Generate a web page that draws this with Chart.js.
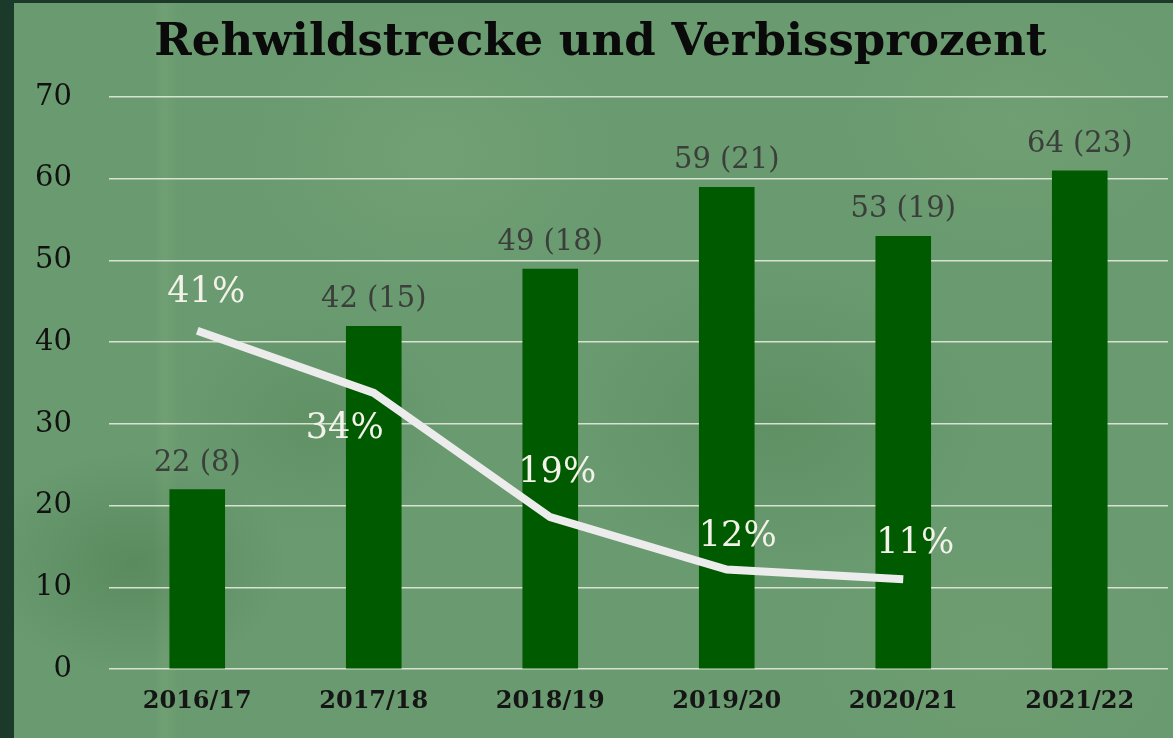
<!DOCTYPE html>
<html>
<head>
<meta charset="utf-8">
<script src="https://cdn.jsdelivr.net/npm/chart.js@4"></script>
<style>
  html, body { margin:0; padding:0; background:#1b3a2a; width:1173px; height:738px; overflow:hidden; }
  #wrap {
    position:absolute; left:14px; top:3px; width:1159px; height:735px;
    background:
      radial-gradient(ellipse 220px 160px at 120px 560px, rgba(60,110,65,0.35), rgba(60,110,65,0) 70%),
      radial-gradient(ellipse 260px 200px at 420px 150px, rgba(130,175,130,0.30), rgba(130,175,130,0) 70%),
      radial-gradient(ellipse 300px 220px at 760px 420px, rgba(70,120,75,0.30), rgba(70,120,75,0) 70%),
      radial-gradient(ellipse 240px 180px at 1000px 120px, rgba(125,170,125,0.30), rgba(125,170,125,0) 70%),
      radial-gradient(ellipse 260px 200px at 980px 650px, rgba(120,165,120,0.30), rgba(120,165,120,0) 70%),
      radial-gradient(ellipse 200px 160px at 300px 420px, rgba(75,125,80,0.30), rgba(75,125,80,0) 70%),
      linear-gradient(90deg, rgba(0,0,0,0) 140px, rgba(140,185,140,0.18) 150px, rgba(0,0,0,0) 165px),
      #6a9a6f;
  }
  canvas { display:block; }
</style>
</head>
<body>
<div id="wrap"><canvas id="chart" width="1159" height="735"></canvas></div>
<script>
// Saisons
var seasons = ['2016/17', '2017/18', '2018/19', '2019/20', '2020/21', '2021/22'];
// Strecke (Balkenhöhe wie im Bild)
var strecke = [22, 42, 49, 59, 53, 61];
// Beschriftung über den Balken
var streckeLabels = ['22 (8)', '42 (15)', '49 (18)', '59 (21)', '53 (19)', '64 (23)'];
// Verbissprozent
var verbiss = [41.4, 33.8, 18.6, 12.2, 11.0, null];
var verbissLabels = ['41%', '34%', '19%', '12%', '11%', ''];
// Lage der Prozent-Beschriftung relativ zum Punkt
var verbissLabelShift = [[9, -38], [-29, 36], [7, -44], [11, -33], [12, -35], [0, 0]];
var yTicks = [0, 10, 20, 30, 40, 50, 60, 70];

var serif = "'DejaVu Serif', serif";

var labelPlugin = {
  id: 'labelPlugin',
  afterDatasetsDraw: function(chart) {
    var ctx = chart.ctx;
    ctx.save();
    ctx.textAlign = 'center';
    ctx.textBaseline = 'middle';

    var barMeta = chart.getDatasetMeta(1);
    ctx.font = '29px ' + serif;
    ctx.fillStyle = '#3b3f3b';
    barMeta.data.forEach(function(el, i) {
      ctx.fillText(streckeLabels[i], el.x, el.y - 26);
    });

    var lineMeta = chart.getDatasetMeta(0);
    ctx.font = '35px ' + serif;
    ctx.fillStyle = '#f2f2e8';
    lineMeta.data.forEach(function(el, i) {
      if (verbiss[i] == null) return;
      ctx.fillText(verbissLabels[i], el.x + verbissLabelShift[i][0], el.y + verbissLabelShift[i][1]);
    });
    ctx.restore();
  }
};

var chart = new Chart(document.getElementById('chart'), {
  data: {
    labels: seasons,
    datasets: [{
      type: 'line',
      label: 'Verbissprozent',
      data: verbiss,
      borderColor: '#ececec',
      borderWidth: 8,
      pointRadius: 0,
      tension: 0,
      spanGaps: false,
      borderCapStyle: 'butt',
      order: 0
    }, {
      type: 'bar',
      label: 'Rehwildstrecke',
      data: strecke,
      backgroundColor: '#005a00',
      barPercentage: 0.315,
      categoryPercentage: 1,
      order: 1
    }]
  },
  options: {
    responsive: false,
    animation: false,
    layout: { padding: { left: 19, right: 5, top: 0, bottom: 4 } },
    plugins: {
      legend: { display: false },
      tooltip: { enabled: false },
      title: {
        display: true,
        text: 'Rehwildstrecke und Verbissprozent',
        color: '#0a0a0a',
        font: { family: serif, size: 45, weight: 'bold', lineHeight: 1.2 },
        padding: { top: 13, bottom: 27 }
      }
    },
    scales: {
      x: {
        grid: { display: false, drawTicks: false },
        border: { display: false },
        ticks: {
          color: '#151515',
          padding: 18,
          font: { family: serif, size: 24, weight: 'bold' }
        }
      },
      y: {
        min: 0,
        max: 70,
        afterBuildTicks: function(axis) {
          axis.ticks = yTicks.map(function(v) { return { value: v }; });
        },
        afterFit: function(axis) {
          axis.width = 76;
        },
        grid: { color: 'rgba(228,234,220,0.9)', lineWidth: 1.5, drawTicks: false },
        border: { display: false },
        ticks: {
          color: '#111111',
          padding: 37,
          font: { family: serif, size: 29 }
        }
      }
    }
  },
  plugins: [labelPlugin]
});
</script>
</body>
</html>
